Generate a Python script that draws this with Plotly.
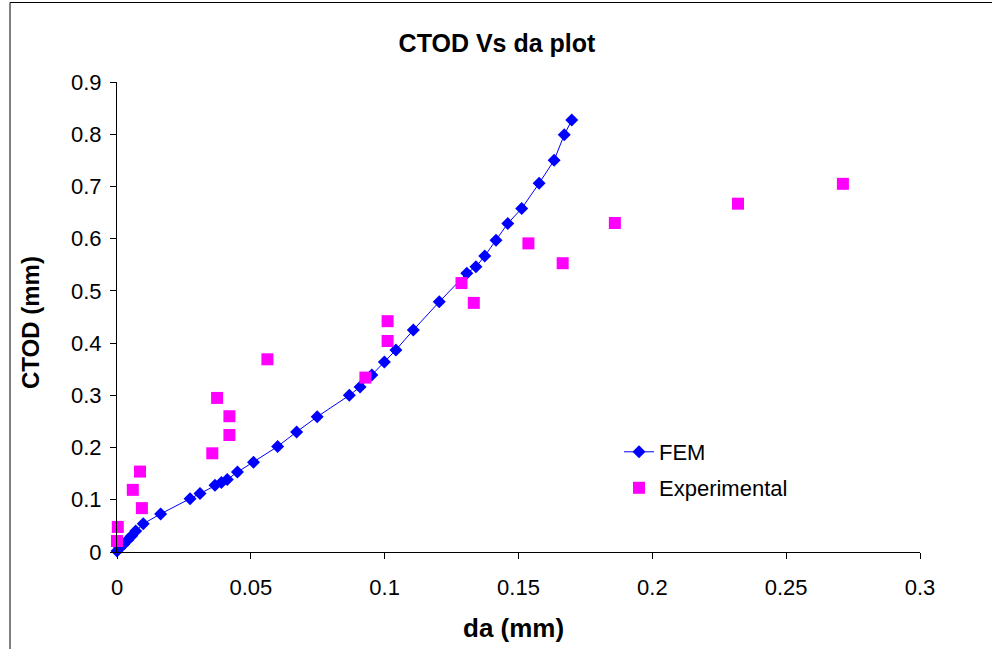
import plotly.graph_objects as go

# FEM curve (da in mm, CTOD in mm)
fem_da = [0.0, 0.001, 0.0025, 0.004, 0.0055, 0.007, 0.0098, 0.0163, 0.0273, 0.031,
          0.0366, 0.039, 0.0412, 0.045, 0.051, 0.060, 0.0671, 0.0748, 0.0868, 0.0908,
          0.0952, 0.0999, 0.1042, 0.1107, 0.1204, 0.1307, 0.1341, 0.1374, 0.1416, 0.1460,
          0.1512, 0.1577, 0.1633, 0.1671, 0.1699]
fem_ctod = [0.002, 0.008, 0.015, 0.023, 0.031, 0.040, 0.054, 0.073, 0.102, 0.112,
            0.128, 0.133, 0.139, 0.153, 0.172, 0.202, 0.230, 0.259, 0.300, 0.316,
            0.339, 0.364, 0.387, 0.425, 0.479, 0.534, 0.546, 0.567, 0.597, 0.629,
            0.658, 0.706, 0.750, 0.799, 0.827]

# Experimental points
exp_da = [0.0, 0.0003, 0.0059, 0.0086, 0.0093, 0.0356, 0.0374, 0.042, 0.042, 0.0562,
          0.0928, 0.1011, 0.1011, 0.1287, 0.1333, 0.1537, 0.1665, 0.186, 0.232, 0.2712]
exp_ctod = [0.021, 0.048, 0.119, 0.154, 0.084, 0.189, 0.295, 0.224, 0.260, 0.369,
            0.334, 0.442, 0.404, 0.515, 0.477, 0.591, 0.553, 0.630, 0.667, 0.705]

x_ticks = [0, 0.05, 0.1, 0.15, 0.2, 0.25, 0.3]
x_tick_labels = ["0", "0.05", "0.1", "0.15", "0.2", "0.25", "0.3"]
y_ticks = [0, 0.1, 0.2, 0.3, 0.4, 0.5, 0.6, 0.7, 0.8, 0.9]
y_tick_labels = ["0", "0.1", "0.2", "0.3", "0.4", "0.5", "0.6", "0.7", "0.8", "0.9"]

FONT = "Liberation Sans, Arial, sans-serif"
W, H = 992, 649
L, R, T, B = 117, 72, 82, 97
pw, ph = W - L - R, H - T - B


def px_x(p):
    return (p - L) / pw


def px_y(p):
    return (H - B - p) / ph


fig = go.Figure()
fig.add_trace(go.Scatter(
    x=fem_da, y=fem_ctod, mode="lines+markers", name="FEM",
    line=dict(color="#0000FF", width=1),
    marker=dict(symbol="diamond", size=10, color="#0000FF"),
    cliponaxis=False, legend="legend",
))
fig.add_trace(go.Scatter(
    x=exp_da, y=exp_ctod, mode="markers", name="Experimental",
    marker=dict(symbol="square", size=12, color="#FF00FF"),
    cliponaxis=False, legend="legend2",
))

legend_common = dict(
    font=dict(family=FONT, size=22, color="black"),
    bgcolor="rgba(0,0,0,0)", borderwidth=0,
    xanchor="left", yanchor="middle",
)

fig.update_layout(
    width=W, height=H,
    margin=dict(l=L, r=R, t=T, b=B),
    paper_bgcolor="white", plot_bgcolor="white",
    showlegend=True,
    font=dict(family=FONT, color="black"),
    title=dict(text="<b>CTOD Vs da plot</b>", x=0.501, xref="container",
               y=1 - 43 / H, yref="container", xanchor="center", yanchor="middle",
               font=dict(family=FONT, size=25, color="black")),
    xaxis=dict(range=[0, 0.3], tickvals=x_ticks, ticktext=x_tick_labels,
               showgrid=False, zeroline=False, showline=True, linecolor="black",
               linewidth=1, ticks="outside", ticklen=6, tickcolor="black",
               ticklabelstandoff=10,
               tickfont=dict(family=FONT, size=22, color="black")),
    yaxis=dict(range=[0, 0.9], tickvals=y_ticks, ticktext=y_tick_labels,
               showgrid=False, zeroline=False, showline=True, linecolor="black",
               linewidth=1, ticks="outside", ticklen=6, tickcolor="black",
               ticklabelstandoff=4,
               tickfont=dict(family=FONT, size=22, color="black")),
    legend=dict(x=px_x(619), y=px_y(452), **legend_common),
    legend2=dict(x=px_x(619), y=px_y(488), **legend_common),
    annotations=[
        dict(text="<b>da (mm)</b>", xref="paper", yref="paper",
             x=px_x(513), y=px_y(628), showarrow=False,
             xanchor="center", yanchor="middle",
             font=dict(family=FONT, size=26, color="black")),
        dict(text="<b>CTOD (mm)</b>", xref="paper", yref="paper",
             x=px_x(30), y=px_y(323), showarrow=False, textangle=-90,
             xanchor="center", yanchor="middle",
             font=dict(family=FONT, size=24, color="black")),
    ],
    shapes=[
        dict(type="rect", xref="paper", yref="paper",
             x0=px_x(10), x1=px_x(1010), y0=px_y(2.5), y1=px_y(700),
             line=dict(color="black", width=1), fillcolor="rgba(0,0,0,0)",
             layer="below"),
    ],
)

fig.write_html("out.html", config={"displayModeBar": False},
               post_script="document.body.style.margin='0';")
